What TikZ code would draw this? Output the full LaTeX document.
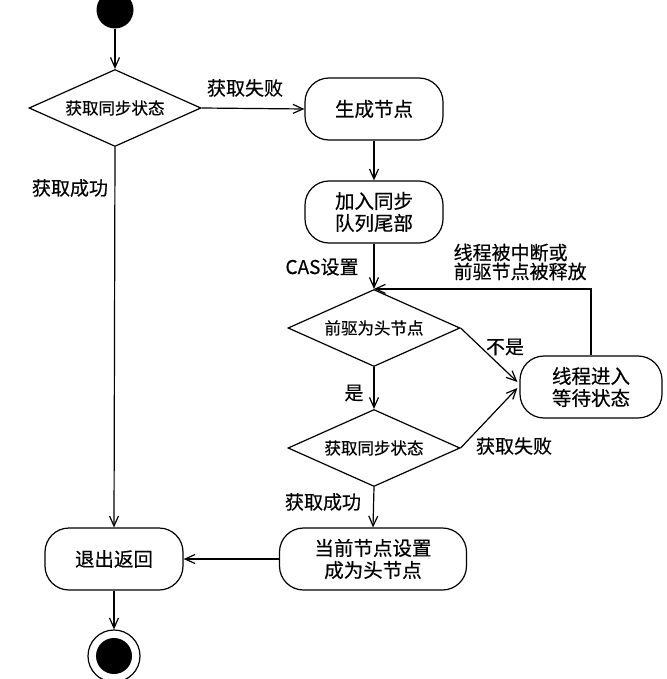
\documentclass[tikz,border=0pt]{standalone}
\usepackage{fontspec}
\setmainfont{Noto Sans CJK SC}[FakeBold=0.4]
\usetikzlibrary{arrows.meta,shapes.geometric}
\begin{document}
\begin{tikzpicture}[x=1pt,y=-1pt,
  line width=1.2pt,
  >={Straight Barb[length=10pt,width=9pt,line width=1.2pt]},
  flow/.style={->},
  actbox/.style={draw,rounded corners=24pt,minimum width=138pt,minimum height=62pt,
    align=center,font=\fontsize{19.5}{22}\selectfont,inner sep=2pt},
  decide/.style={draw,diamond,shape aspect=2.2,minimum width=172pt,minimum height=77pt,
    inner sep=0pt,font=\fontsize{16.5}{18}\selectfont},
  lbl/.style={font=\fontsize{19}{20}\selectfont,inner sep=0pt,align=left}]
\useasboundingbox (0,0) rectangle (666,679);

\node[circle,fill=black,minimum size=37pt,inner sep=0pt] (start) at (115,10) {};
\node[decide] (d1) at (115,108) {获取同步状态};
\node[actbox] (gen) at (374,109) {生成节点};
\node[actbox] (enq) at (374,212) {加入同步\\队列尾部};
\node[decide] (d2) at (374,328) {前驱为头节点};
\node[decide] (d3) at (374,448) {获取同步状态};
\node[actbox,minimum width=142pt] (wait) at (591,387) {线程进入\\等待状态};
\node[actbox,minimum width=187pt] (head) at (373,559) {当前节点设置\\成为头节点};
\node[actbox] (exit) at (114,559) {退出返回};
\node[circle,draw,fill=white,minimum size=52pt,inner sep=0pt] (end) at (114,656) {};
\node[circle,fill=black,minimum size=36pt,inner sep=0pt] (endin) at (end.center) {};

\draw[flow] (start) -- (d1.north);
\draw[flow] (d1.east) -- (gen.west);
\draw[flow] (gen.south) -- (enq.north);
\draw[flow] (enq.south) -- (d2.north);
\draw[flow] (d2.east) -- ([xshift=-2pt,yshift=5pt]wait.west);
\draw[flow] (d3.east) -- ([xshift=-2pt,yshift=-1pt]wait.west);
\draw[flow] (wait.north) |- (d2.north);
\draw[flow] (d2.south) -- (d3.north);
\draw[flow] (d3.south) -- (head.north);
\draw[flow] (head.west) -- (exit.east);
\draw[flow] (d1.south) -- (exit.north);
\draw[flow] (exit.south) -- (end.north);

\node[lbl] (l1) at (245,88) {获取失败};
\node[lbl] (l2) at (70,188) {获取成功};
\node[lbl] (l3) at (322,267) {CAS设置};
\node[lbl,anchor=west] (l4) at (453,262) {线程被中断或\\[-1pt]前驱节点被释放};
\node[lbl] (l5) at (505,347) {不是};
\node[lbl] (l6) at (354,393) {是};
\node[lbl] (l7) at (514,446) {获取失败};
\node[lbl] (l8) at (323,502) {获取成功};
\end{tikzpicture}
\end{document}
